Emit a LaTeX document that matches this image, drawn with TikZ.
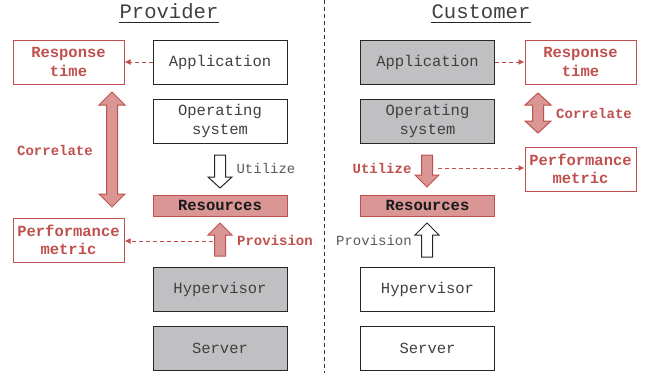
\documentclass[tikz,border=0pt]{standalone}
\usepackage{fontspec}
\setmainfont{Liberation Mono}
\setmonofont{Liberation Mono}
\usetikzlibrary{arrows.meta}
\definecolor{myred}{HTML}{C0504D}
\definecolor{redfill}{HTML}{D99694}
\definecolor{boxgray}{HTML}{C0C0C3}
\definecolor{textgray}{HTML}{404040}
\definecolor{lightgray}{HTML}{595959}
\newcommand\blockarrowv[5]{%
  \draw[#1] ({#2-5.5},#3) -- ({#2-5.5},#4) -- ({#2-12},#4) -- (#2,#5) -- ({#2+12},#4) -- ({#2+5.5},#4) -- ({#2+5.5},#3) -- cycle;}
\newcommand\blockarrowd[6]{%
  \draw[#1] (#2,#3) -- ({#2+13},#4) -- ({#2+5.5},#4) -- ({#2+5.5},#5) -- ({#2+13},#5) -- (#2,#6) -- ({#2-13},#5) -- ({#2-5.5},#5) -- ({#2-5.5},#4) -- ({#2-13},#4) -- cycle;}
\begin{document}
\begin{tikzpicture}[x=1pt,y=-1pt,
  layerbox/.style={draw=black!85, line width=1pt, minimum width=134pt, minimum height=44pt,
    inner sep=0pt, font=\fontsize{15.5}{18.5}\selectfont, text=textgray, align=center},
  grayfill/.style={fill=boxgray},
  resbox/.style={draw=myred, fill=redfill, line width=1pt, minimum width=134pt, minimum height=21pt,
    inner sep=0pt, font=\bfseries\fontsize{15.5}{18.5}\selectfont, text=black!90},
  metricbox/.style={draw=myred, line width=1pt, minimum width=111pt, minimum height=44pt,
    inner sep=0pt, font=\bfseries\fontsize{15.5}{18.5}\selectfont, text=myred, align=center},
  redlabel/.style={font=\bfseries\fontsize{14}{16}\selectfont, text=myred, inner sep=0pt},
  graylabel/.style={font=\fontsize{14}{16}\selectfont, text=lightgray, inner sep=0pt},
  titlelabel/.style={font=\fontsize{20.6}{24}\selectfont, text=textgray, inner sep=0pt, anchor=base},
  dasharrow/.style={draw=myred, line width=1pt, dash pattern=on 4pt off 3pt, -{Latex[length=6pt,width=6pt]}},
  redarrow/.style={draw=myred, fill=redfill, line width=1pt},
  whitearrow/.style={draw=black!85, fill=white, line width=1pt}
]
\useasboundingbox (0,0) rectangle (647,373);
% divider
\draw[black!80, line width=1pt, dash pattern=on 4pt off 3pt] (324,0) -- (324,373);
% titles
\node[titlelabel] (tprov) at (169,18) {Provider};
\draw[black!85, line width=1pt] ([yshift=-4pt]tprov.base west) -- ([yshift=-4pt]tprov.base east);
\node[titlelabel] (tcust) at (481,18) {Customer};
\draw[black!85, line width=1pt] ([yshift=-4pt]tcust.base west) -- ([yshift=-4pt]tcust.base east);

% provider stack
\node[layerbox] (appL) at (220,62) {Application};
\node[layerbox] (osL) at (220,121) {Operating\\system};
\node[resbox] (resL) at (220,205.5) {Resources};
\node[layerbox, grayfill] (hypL) at (220,289) {Hypervisor};
\node[layerbox, grayfill] (srvL) at (220,348) {Server};
\node[metricbox] (rtL) at (68.5,62) {Response\\time};
\node[metricbox] (pmL) at (68.5,240) {Performance\\metric};

% customer stack
\node[layerbox, grayfill] (appR) at (427.5,62) {Application};
\node[layerbox, grayfill] (osR) at (427.5,121) {Operating\\system};
\node[resbox] (resR) at (427.5,205.5) {Resources};
\node[layerbox] (hypR) at (427.5,289) {Hypervisor};
\node[layerbox] (srvR) at (427.5,348) {Server};
\node[metricbox] (rtR) at (580.5,62) {Response\\time};
\node[metricbox] (pmR) at (580.5,169) {Performance\\metric};

% block arrows provider
\blockarrowd{redarrow}{112}{92}{105}{194}{207}
\blockarrowv{whitearrow}{220}{155}{177}{188}
\blockarrowv{redarrow}{220}{256}{235}{223}
% block arrows customer
\blockarrowd{redarrow}{538}{93}{105}{121}{133}
\blockarrowv{redarrow}{427}{155}{175}{187}
\blockarrowv{whitearrow}{427}{257}{235}{223}

% labels
\node[redlabel] (corL) at (55,150) {Correlate};
\node[graylabel] (utiL) at (266,168) {Utilize};
\node[redlabel] (proL) at (275,240) {Provision};
\node[redlabel] (corR) at (594,113) {Correlate};
\node[redlabel] (utiR) at (382,168) {Utilize};
\node[graylabel] (proR) at (374,240) {Provision};

% dashed arrows
\draw[dasharrow] (appL.west) -- (rtL.east);
\coordinate (provLstart) at (213,241);
\draw[dasharrow] (provLstart) -- (provLstart -| pmL.east);
\draw[dasharrow] (appR.east) -- (rtR.west);
\coordinate (utilRstart) at (438,168);
\draw[dasharrow] (utilRstart) -- (utilRstart -| pmR.west);
\end{tikzpicture}
\end{document}
